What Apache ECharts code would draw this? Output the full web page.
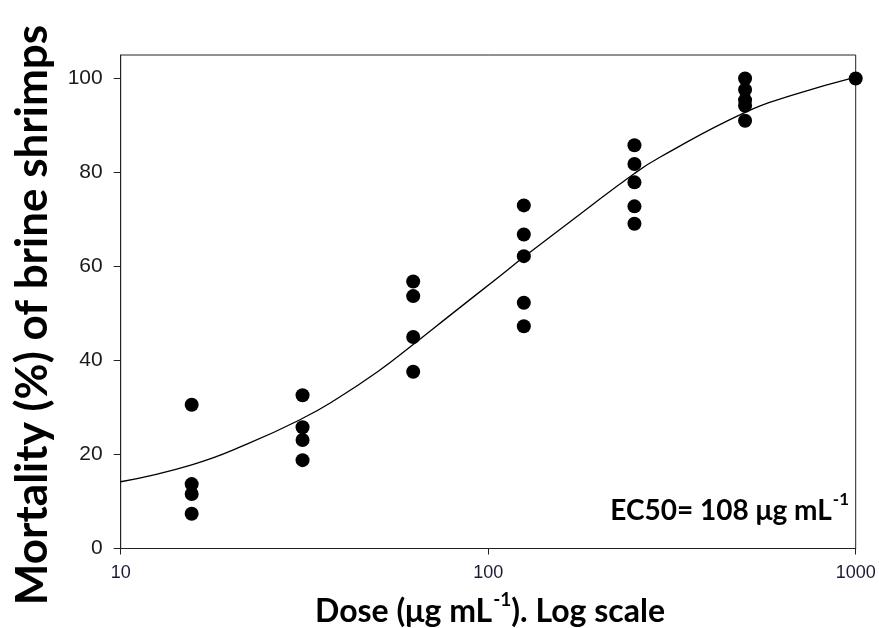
<!DOCTYPE html>
<html>
<head>
<meta charset="utf-8">
<script src="https://cdn.jsdelivr.net/npm/echarts@6/dist/echarts.min.js"></script>
<style>html,body{margin:0;padding:0;background:#fff;}#c{width:879px;height:628px;}</style>
</head>
<body>
<div id="c"></div>
<script>
// Observed data (dose in µg/mL, mortality %)
const pointDose = [15.6, 15.6, 15.6, 15.6,
                   31.25, 31.25, 31.25, 31.25,
                   62.5, 62.5, 62.5, 62.5,
                   125, 125, 125, 125, 125,
                   250, 250, 250, 250, 250,
                   500, 500, 500, 500, 500,
                   1000];
const pointMortality = [30.6, 13.7, 11.6, 7.4,
                        32.6, 25.8, 23.1, 18.8,
                        56.8, 53.7, 45.0, 37.6,
                        73.0, 66.8, 62.2, 52.3, 47.3,
                        85.8, 81.8, 77.9, 72.8, 69.1,
                        100.0, 97.6, 95.4, 94.2, 91.0,
                        100.0];
// Fitted curve
const curveDose = [10, 15.6, 22.2, 31.1, 38.3, 50, 62.5, 78.7, 107.7, 125, 177, 250, 294, 500, 676, 1000];
const curveMortality = [14.2, 17.8, 22.3, 27.6, 31.6, 37.6, 43.4, 49.6, 58.0, 62.0, 71.0, 79.8, 83.3, 92.8, 96.5, 100.3];
// Axis ticks
const yTicks = [0, 20, 40, 60, 80, 100];

const chart = echarts.init(document.getElementById('c'), null, {renderer: 'canvas'});
const titleFont = 'Lato';
chart.setOption({
  animation: false,
  backgroundColor: '#fff',
  grid: {
    left: 120.7, right: 23.3, top: 55, bottom: 79.5,
    show: true, borderColor: '#222', borderWidth: 1, backgroundColor: 'transparent'
  },
  xAxis: {
    type: 'log', logBase: 10, min: 10, max: 1000,
    axisLine: {show: true, lineStyle: {color: '#222', width: 1}},
    axisTick: {show: true, length: 6, inside: false, lineStyle: {color: '#222'}},
    minorTick: {show: false},
    splitLine: {show: false},
    axisLabel: {
      margin: 16, color: '#1a1a33', fontFamily: 'Liberation Sans', fontSize: 18,
      formatter: function (v) { return String(Math.round(v)); }
    }
  },
  yAxis: {
    type: 'value', min: 0, max: 105, interval: 20,
    axisLine: {show: true, lineStyle: {color: '#222', width: 1}},
    axisTick: {show: true, length: 7, lineStyle: {color: '#222'}, customValues: yTicks},
    splitLine: {show: false},
    axisLabel: {
      margin: 18, color: '#1a1a1a', fontFamily: 'Liberation Sans', fontSize: 21,
      customValues: yTicks
    }
  },
  series: [
    {
      type: 'line', data: curveDose.map((d, i) => [d, curveMortality[i]]),
      smooth: 0.5, showSymbol: false, symbol: 'none',
      lineStyle: {color: '#000', width: 1.3}, z: 2
    },
    {
      type: 'scatter', data: pointDose.map((d, i) => [d, pointMortality[i]]),
      symbol: 'circle', symbolSize: 14,
      itemStyle: {color: '#000', opacity: 1}, z: 3
    }
  ],
  graphic: [
    {
      type: 'text', x: 33, y: 315, rotation: Math.PI / 2,
      style: {
        text: 'Mortality (%) of brine shrimps',
        font: 'bold 44px ' + titleFont, fill: '#000',
        textAlign: 'center', textVerticalAlign: 'middle'
      }
    },
    {
      type: 'text', x: 490, y: 609,
      style: {
        text: '{a|Dose (μg mL}{s|-1}{a|). Log scale}',
        textAlign: 'center', textVerticalAlign: 'middle',
        rich: {
          a: {fontFamily: titleFont, fontWeight: 'bold', fontSize: 32, fill: '#000', lineHeight: 38, verticalAlign: 'bottom'},
          s: {fontFamily: titleFont, fontWeight: 'bold', fontSize: 19, fill: '#000', lineHeight: 38, verticalAlign: 'top', padding: [0, 0, 0, 1]}
        }
      }
    },
    {
      type: 'text', x: 849, y: 508,
      style: {
        text: '{a|EC50= 108 μg mL}{s|-1}',
        textAlign: 'right', textVerticalAlign: 'middle',
        rich: {
          a: {fontFamily: titleFont, fontWeight: 'bold', fontSize: 28, fill: '#000', lineHeight: 34, verticalAlign: 'bottom'},
          s: {fontFamily: titleFont, fontWeight: 'bold', fontSize: 17, fill: '#000', lineHeight: 34, verticalAlign: 'top', padding: [0, 0, 0, 1]}
        }
      }
    }
  ]
});
</script>
</body>
</html>
